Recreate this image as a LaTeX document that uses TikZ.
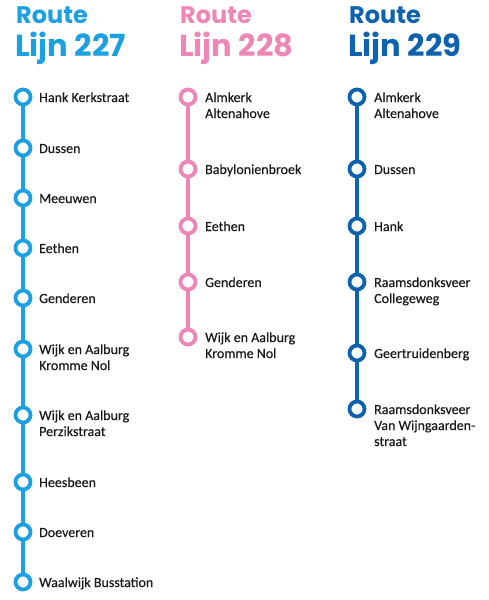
\documentclass[tikz,border=0pt]{standalone}
\usepackage{fontspec}
\setmainfont{Carlito}
\newfontfamily\lblfont[FakeBold=0.4]{Carlito}
\newfontfamily\titlefont{Poppins}
\definecolor{lblue}{HTML}{1BA0E2}
\definecolor{lpink}{HTML}{EE86B6}
\definecolor{dblue}{HTML}{0F62AE}
\definecolor{txt}{HTML}{1A1A1A}
\begin{document}
\begin{tikzpicture}[x=1pt,y=-1pt,
  stop/.style={circle,draw=#1,fill=white,line width=3.8pt,minimum size=15pt,inner sep=0pt},
  rail/.style={draw=#1,line width=4.5pt},
  lbl/.style={anchor=base west,align=left,inner sep=0pt,font=\lblfont\fontsize{14}{16}\selectfont,text=txt},
  ttl/.style={anchor=base west,inner sep=0pt,text=#1,font=\titlefont\bfseries\fontsize{24}{24}\selectfont},
  big/.style={anchor=base west,inner sep=0pt,text=#1,font=\titlefont\bfseries\fontsize{30.5}{30}\selectfont}]
\useasboundingbox (0,0) rectangle (488,600);
% titles
\node[ttl=lblue] (t1) at (16,23) {Route};
\node[big=lblue] (b1) at (15,56) {Lijn 227};
\node[ttl=lpink] (t2) at (180,23) {Route};
\node[big=lpink] (b2) at (179,56) {Lijn 228};
\node[ttl=dblue] (t3) at (349,23) {Route};
\node[big=dblue] (b3) at (348,56) {Lijn 229};
% line 227
\foreach \i/\y in {1/97,2/148,3/198,4/248,5/298,6/349,7/415,8/482,9/532,10/582}
  \node[stop=lblue] (a\i) at (23,\y) {};
\foreach \i/\j in {1/2,2/3,3/4,4/5,5/6,6/7,7/8,8/9,9/10}
  \draw[rail=lblue] (a\i) -- (a\j);
\node[lbl] (la1) at (39,102) {Hank Kerkstraat};
\node[lbl] (la2) at (39,153) {Dussen};
\node[lbl] (la3) at (39,203) {Meeuwen};
\node[lbl] (la4) at (39,253) {Eethen};
\node[lbl] (la5) at (39,303) {Genderen};
\node[lbl] (la6) at (39,370) {Wijk en Aalburg\\Kromme Nol};
\node[lbl] (la7) at (39,436) {Wijk en Aalburg\\Perzikstraat};
\node[lbl] (la8) at (39,487) {Heesbeen};
\node[lbl] (la9) at (39,537) {Doeveren};
\node[lbl] (la10) at (39,587) {Waalwijk Busstation};
% line 228
\foreach \i/\y in {1/97,2/169,3/226,4/282,5/337}
  \node[stop=lpink] (p\i) at (188,\y) {};
\foreach \i/\j in {1/2,2/3,3/4,4/5}
  \draw[rail=lpink] (p\i) -- (p\j);
\node[lbl] (lp1) at (205,118) {Almkerk\\Altenahove};
\node[lbl] (lp2) at (205,174) {Babylonienbroek};
\node[lbl] (lp3) at (205,231) {Eethen};
\node[lbl] (lp4) at (205,287) {Genderen};
\node[lbl] (lp5) at (205,358) {Wijk en Aalburg\\Kromme Nol};
% line 229
\foreach \i/\y in {1/97,2/169,3/226,4/282,5/353,6/409}
  \node[stop=dblue] (d\i) at (357,\y) {};
\foreach \i/\j in {1/2,2/3,3/4,4/5,5/6}
  \draw[rail=dblue] (d\i) -- (d\j);
\node[lbl] (ld1) at (374,118) {Almkerk\\Altenahove};
\node[lbl] (ld2) at (374,174) {Dussen};
\node[lbl] (ld3) at (374,231) {Hank};
\node[lbl] (ld4) at (374,303) {Raamsdonksveer\\Collegeweg};
\node[lbl] (ld5) at (374,358) {Geertruidenberg};
\node[lbl] (ld6) at (374,446) {Raamsdonksveer\\Van Wijngaarden-\\straat};
\end{tikzpicture}
\end{document}
